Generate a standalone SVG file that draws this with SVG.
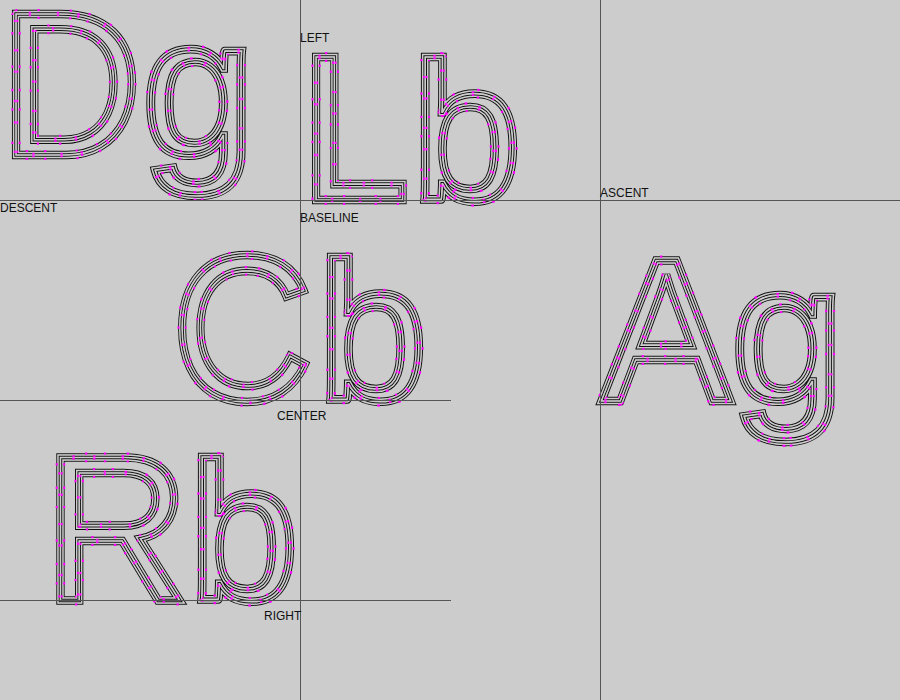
<svg xmlns="http://www.w3.org/2000/svg" width="900" height="700" viewBox="0 0 900 700">
<style>
.g{font-family:"Liberation Sans",Arial,sans-serif;font-size:196px;fill:none}
.cap{font-size:207px}
.cap2{font-size:205px}
.bo,.go,.co,.bi,.gi,.ci{stroke-linejoin:miter;stroke-miterlimit:3}
.mo,.mi{stroke-linejoin:bevel}
.bo{stroke:#111;stroke-width:8.6px}
.go{stroke:#ccc;stroke-width:6.6px}
.mo{stroke:#f0f;stroke-width:9.8px;stroke-dasharray:2.4 21 2.4 31 2.4 17}
.co{stroke:#ccc;stroke-width:5.4px}
.bi{stroke:#111;stroke-width:3.6px}
.gi{stroke:#ccc;stroke-width:1.6px}
.mi{stroke:#f0f;stroke-width:4.6px;stroke-dasharray:2.4 19 2.4 27;stroke-dashoffset:7}
.ci{stroke:#ccc;stroke-width:.6px}
.l{font-family:"Liberation Sans",Arial,sans-serif;font-size:12px;fill:#111}
.guide{stroke:#555;stroke-width:1;fill:none}
</style>
<defs>
<text id="dg" class="g" y="154.6"><tspan class="cap2" x="0" textLength="141.2" lengthAdjust="spacingAndGlyphs">D</tspan><tspan x="142.3" textLength="112.4" lengthAdjust="spacingAndGlyphs">g</tspan></text>
<text id="lb" class="g" y="200"><tspan class="cap" x="300" textLength="109.1" lengthAdjust="spacingAndGlyphs">L</tspan><tspan x="412">b</tspan></text>
<text id="cb" class="g" y="400"><tspan class="cap" x="172.3" textLength="140" lengthAdjust="spacingAndGlyphs">C</tspan><tspan x="318">b</tspan></text>
<text id="rb" class="g" y="600"><tspan class="cap" x="44" textLength="145" lengthAdjust="spacingAndGlyphs">R</tspan><tspan x="189">b</tspan></text>
<text id="ag" class="g" y="401"><tspan class="cap2" x="601" textLength="130" lengthAdjust="spacingAndGlyphs">A</tspan><tspan x="731.3" textLength="112.4" lengthAdjust="spacingAndGlyphs">g</tspan></text>
</defs>
<rect width="900" height="700" fill="#ccc"/>
<g id="node-dg"><use href="#dg" class="bo"/><use href="#dg" class="go"/><use href="#dg" class="mo"/><use href="#dg" class="co"/><use href="#dg" class="bi"/><use href="#dg" class="gi"/><use href="#dg" class="mi"/><use href="#dg" class="ci"/></g>
<g id="node-lb"><use href="#lb" class="bo"/><use href="#lb" class="go"/><use href="#lb" class="mo"/><use href="#lb" class="co"/><use href="#lb" class="bi"/><use href="#lb" class="gi"/><use href="#lb" class="mi"/><use href="#lb" class="ci"/></g>
<g id="node-cb"><use href="#cb" class="bo"/><use href="#cb" class="go"/><use href="#cb" class="mo"/><use href="#cb" class="co"/><use href="#cb" class="bi"/><use href="#cb" class="gi"/><use href="#cb" class="mi"/><use href="#cb" class="ci"/></g>
<g id="node-rb"><use href="#rb" class="bo"/><use href="#rb" class="go"/><use href="#rb" class="mo"/><use href="#rb" class="co"/><use href="#rb" class="bi"/><use href="#rb" class="gi"/><use href="#rb" class="mi"/><use href="#rb" class="ci"/></g>
<g id="node-ag"><use href="#ag" class="bo"/><use href="#ag" class="go"/><use href="#ag" class="mo"/><use href="#ag" class="co"/><use href="#ag" class="bi"/><use href="#ag" class="gi"/><use href="#ag" class="mi"/><use href="#ag" class="ci"/></g>
<g id="connectors">
<line class="guide" x1="300.5" y1="0" x2="300.5" y2="700"/>
<line class="guide" x1="600.5" y1="0" x2="600.5" y2="700"/>
<line class="guide" x1="0" y1="200.5" x2="900" y2="200.5"/>
<line class="guide" x1="0" y1="400.5" x2="451" y2="400.5"/>
<line class="guide" x1="0" y1="600.5" x2="451" y2="600.5"/>
</g>
<g id="labels">
<text class="l" x="0" y="212">DESCENT</text>
<text class="l" x="300" y="42">LEFT</text>
<text class="l" x="300" y="222">BASELINE</text>
<text class="l" x="600" y="197">ASCENT</text>
<text class="l" x="277" y="420">CENTER</text>
<text class="l" x="264" y="620">RIGHT</text>
</g>
</svg>
